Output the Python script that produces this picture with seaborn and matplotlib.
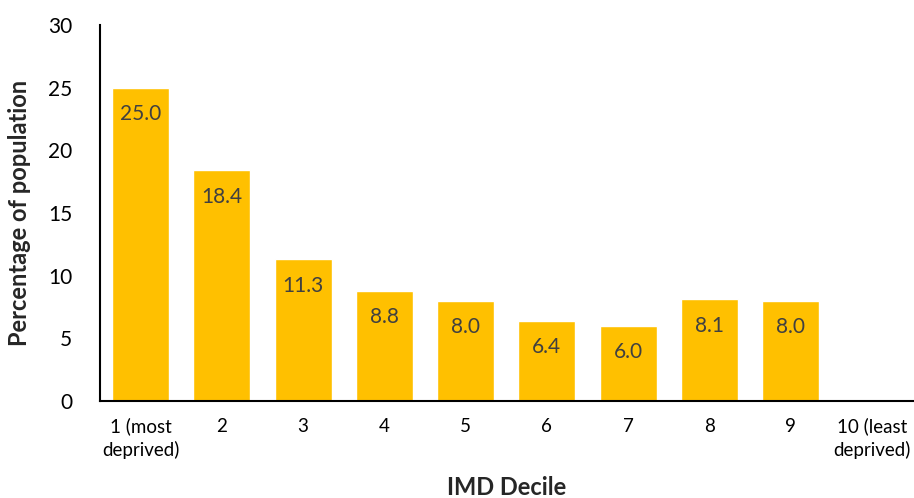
import numpy as np
import pandas as pd
import matplotlib
matplotlib.use("Agg")
import matplotlib.pyplot as plt
import seaborn as sns

deciles = ["1 (most\ndeprived)", "2", "3", "4", "5", "6", "7", "8", "9", "10 (least\ndeprived)"]
percent = [25.0, 18.4, 11.3, 8.8, 8.0, 6.4, 6.0, 8.1, 8.0, np.nan]
y_ticks = [0, 5, 10, 15, 20, 25, 30]

sns.set_theme(style="white")
plt.rcParams["font.family"] = ["Lato", "DejaVu Sans"]

df = pd.DataFrame({"decile": deciles, "percent": percent})

fig = plt.figure(figsize=(9.14, 4.98), dpi=100)
ax = fig.add_axes([0.1094, 0.1948, 0.889, 0.755])

sns.barplot(data=df, x="decile", y="percent", color="#FFC000", saturation=1,
            width=0.7, ax=ax)

for i, v in enumerate(percent):
    if np.isfinite(v):
        ax.annotate(f"{v:.1f}", (i, v), xytext=(0, -19), textcoords="offset points",
                    ha="center", va="center", fontsize=15, color="#404040")

ax.set_ylim(0, 30)
ax.set_yticks(y_ticks)
ax.set_xlim(-0.5, len(deciles) - 0.5)
ax.tick_params(axis="y", labelsize=15, length=0, pad=20, colors="#000000")
ax.tick_params(axis="x", labelsize=13.5, length=0, pad=12, colors="#000000")
for lbl in ax.get_xticklabels():
    lbl.set_linespacing(1.35)
ax.set_ylabel("Percentage of population", fontsize=17, fontweight="bold", labelpad=12)
ax.set_xlabel("IMD Decile", fontsize=17, fontweight="bold", labelpad=12)

for s in ["top", "right"]:
    ax.spines[s].set_visible(False)
for s in ["left", "bottom"]:
    ax.spines[s].set_color("#000000")
    ax.spines[s].set_linewidth(1.5)

fig.savefig("out.png", dpi=100)
